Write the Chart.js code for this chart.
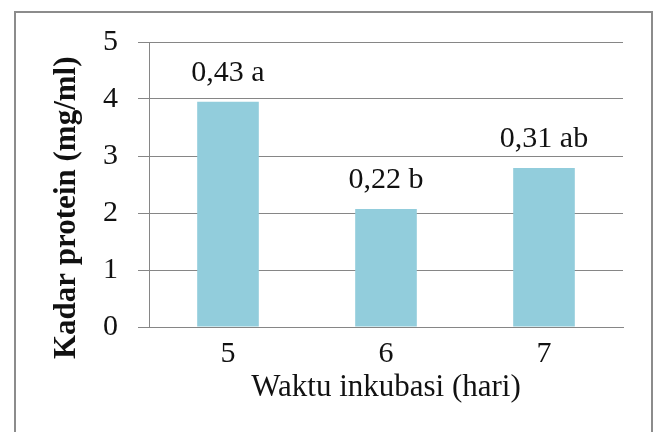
<!DOCTYPE html>
<html>
<head>
<meta charset="utf-8">
<script src="https://cdn.jsdelivr.net/npm/chart.js@4"></script>
<style>
  html, body { margin: 0; padding: 0; background: #fff; }
  #wrap { width: 659px; height: 432px; }
</style>
</head>
<body>
<div id="wrap"><canvas id="proteinChart"></canvas></div>
<script>
// data
let days = ['5', '6', '7'];
let kadarProtein = [3.95, 2.07, 2.79];
let barLabels = ['0,43 a', '0,22 b', '0,31 ab'];
let yTicks = [0, 1, 2, 3, 4, 5];

let ctx = document.getElementById('proteinChart');

// white background + grey frame around the whole chart (like the Excel chart box)
let frame = {
  id: 'frame',
  beforeDraw(chart) {
    let c = chart.ctx;
    c.save();
    c.fillStyle = '#fff';
    c.fillRect(0, 0, chart.width, chart.height);
    c.strokeStyle = '#8c8c8c';
    c.lineWidth = 2;
    c.strokeRect(15, 12, 637, 440);
    c.restore();
  }
};

// text above each bar
let barText = {
  id: 'barText',
  afterDatasetsDraw(chart) {
    let c = chart.ctx;
    let meta = chart.getDatasetMeta(0);
    c.save();
    c.font = '30px "Liberation Serif"';
    c.fillStyle = '#111';
    c.textAlign = 'center';
    c.textBaseline = 'middle';
    meta.data.forEach((bar, i) => {
      c.fillText(barLabels[i], bar.x, bar.y - 29);
    });
    c.restore();
  }
};

let chart = new Chart(ctx, {
  type: 'bar',
  data: {
    labels: days,
    datasets: [{
      data: kadarProtein,
      backgroundColor: 'rgb(146, 205, 220)',
      borderWidth: 0,
      categoryPercentage: 1,
      barPercentage: 0.39
    }]
  },
  options: {
    responsive: true,
    maintainAspectRatio: false,
    animation: false,
    layout: {
      padding: { top: 42, right: 36, bottom: 0, left: 0 }
    },
    plugins: {
      legend: { display: false },
      tooltip: { enabled: false }
    },
    scales: {
      x: {
        grid: { display: false },
        border: { display: true, color: '#868686', width: 1 },
        ticks: {
          padding: 1,
          color: '#111',
          font: { family: 'Liberation Serif', size: 30 }
        },
        title: {
          display: true,
          text: 'Waktu inkubasi (hari)',
          color: '#111',
          font: { family: 'Liberation Serif', size: 31 },
          padding: { top: 0, bottom: 26 }
        },
        afterFit(scale) { scale.height = 105; }
      },
      y: {
        min: 0,
        max: 5,
        afterBuildTicks(scale) {
          scale.ticks = yTicks.map(v => ({ value: v }));
        },
        grid: {
          color: '#868686',
          lineWidth: 1,
          drawTicks: true,
          tickLength: 11
        },
        border: { display: true, color: '#868686', width: 1 },
        ticks: {
          padding: 20,
          color: '#111',
          font: { family: 'Liberation Serif', size: 30 }
        },
        title: {
          display: true,
          // trailing spaces push the title a bit lower, as in the original
          text: 'Kadar protein (mg/ml)      ',
          color: '#111',
          font: { family: 'Liberation Serif', size: 31, weight: 'bold' },
          padding: { top: 48, bottom: 0 }
        },
        afterFit(scale) { scale.width = 149; }
      }
    }
  },
  plugins: [frame, barText]
});
</script>
</body>
</html>
